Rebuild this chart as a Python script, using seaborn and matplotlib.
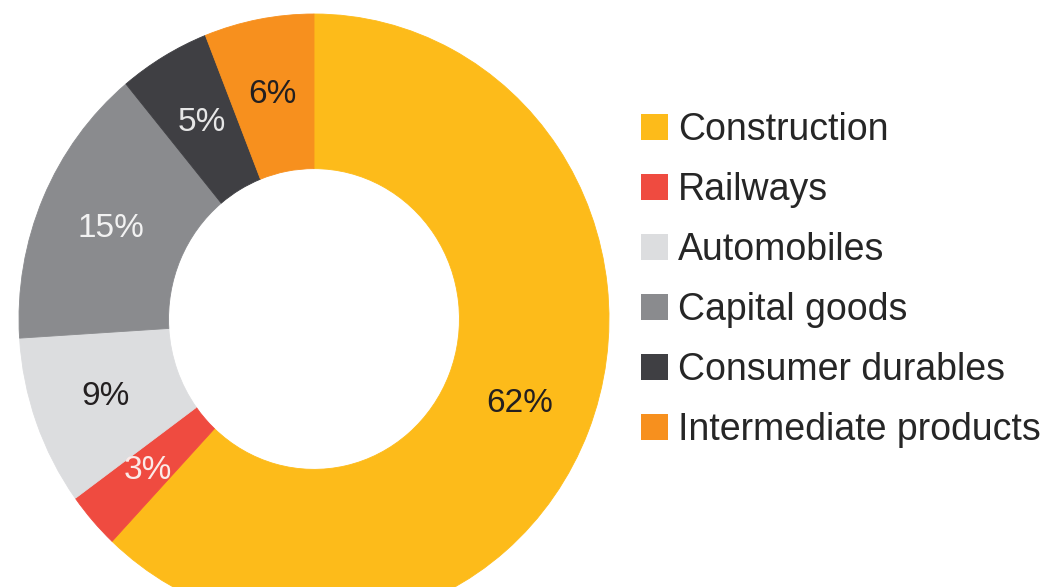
import matplotlib
matplotlib.use("Agg")
import matplotlib.pyplot as plt
import matplotlib.patches as mpatches
import seaborn as sns

# Share of steel demand by end-use sector (%)
sectors = ["Construction", "Railways", "Automobiles", "Capital goods",
           "Consumer durables", "Intermediate products"]
shares = [62, 3, 9, 15, 5, 6]
colors = ["#FDBB1A", "#EF4B40", "#DCDDDF", "#8A8B8E", "#3F3F43", "#F7901E"]
label_colors = ["#231F20", "#FBEAE8", "#231F20", "#F2F2F2", "#E6E6E6", "#231F20"]

sns.set_theme(style="white")
plt.rcParams["font.family"] = ["Liberation Sans", "DejaVu Sans"]

fig = plt.figure(figsize=(10.46, 5.87), dpi=100)
fig.patch.set_facecolor("white")

# Donut axes: runs past the bottom edge of the canvas
ax = fig.add_axes([19 / 1046, (587 - 624) / 587, 590 / 1046, 610 / 587])
wedges, texts, autotexts = ax.pie(
    shares,
    colors=colors,
    startangle=90,
    counterclock=False,
    radius=1.0,
    autopct=lambda p: f"{p:.0f}%",
    pctdistance=0.75,
    wedgeprops=dict(width=0.507, linewidth=0.6),
    textprops=dict(fontsize=24),
)
for w, c in zip(wedges, colors):
    w.set_edgecolor(c)
for t, c in zip(autotexts, label_colors):
    t.set_color(c)
ax.set_xlim(-1, 1)
ax.set_ylim(-1, 1)
ax.set_aspect("auto")
ax.axis("off")

# Legend on the right
handles = [mpatches.Patch(facecolor=c, edgecolor="none", label=s)
           for s, c in zip(sectors, colors)]
leg = fig.legend(
    handles=handles,
    loc="upper left",
    bbox_to_anchor=(641 / 1046, 1 - 112 / 587),
    frameon=False,
    fontsize=27,
    handlelength=0.72,
    handleheight=0.72,
    handletextpad=0.27,
    labelspacing=0.64,
    borderpad=0,
    borderaxespad=0,
    labelcolor="#262626",
)

fig.savefig("out.png", dpi=100, facecolor="white")
